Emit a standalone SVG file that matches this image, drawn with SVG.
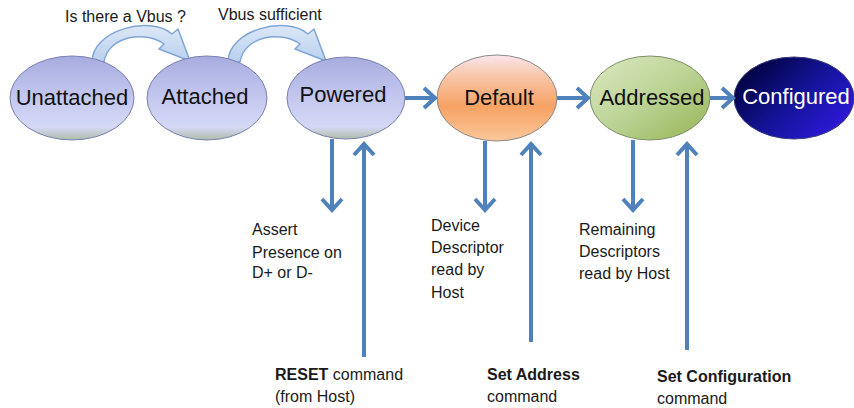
<svg xmlns="http://www.w3.org/2000/svg" width="854" height="408" viewBox="0 0 854 408">
  <style>
    .lbl { font-family: "Liberation Sans", Arial, sans-serif; font-size: 16px; fill: #1a1a1a; }
    .b { font-weight: bold; }
    .node-text { font-family: "Liberation Sans", Arial, sans-serif; font-size: 22px; fill: #111; text-anchor: middle; }
    .conn { stroke: #4f81bd; stroke-width: 4; fill: none; marker-end: url(#head); }
    .bend { fill: url(#bendFill); stroke: #7fa6d6; stroke-width: 1.5; stroke-linejoin: round; }
  </style>
  <defs>
    <marker id="head" markerUnits="userSpaceOnUse" viewBox="-16 -14 20 28" refX="0" refY="0" markerWidth="20" markerHeight="28" orient="auto">
      <path d="M-11,-10 L0,0 L-11,10" fill="none" stroke="#4f81bd" stroke-width="4"/>
    </marker>
    <linearGradient id="blueNode" x1="0" y1="0" x2="0" y2="1">
      <stop offset="0" stop-color="#a7acdf"/>
      <stop offset="0.5" stop-color="#c4c8ef"/>
      <stop offset="0.85" stop-color="#d5d9f6"/>
      <stop offset="1" stop-color="#adbca6"/>
    </linearGradient>
    <linearGradient id="orangeNode" x1="0" y1="0" x2="0" y2="1">
      <stop offset="0" stop-color="#fbe6ee"/>
      <stop offset="0.25" stop-color="#f9c6a8"/>
      <stop offset="0.6" stop-color="#f7a264"/>
      <stop offset="1" stop-color="#fac89a"/>
    </linearGradient>
    <linearGradient id="greenNode" x1="0" y1="0" x2="1" y2="1">
      <stop offset="0" stop-color="#dce9c2"/>
      <stop offset="0.5" stop-color="#bcd395"/>
      <stop offset="1" stop-color="#93b553"/>
    </linearGradient>
    <linearGradient id="navyNode" x1="0" y1="0.2" x2="1" y2="0.9">
      <stop offset="0" stop-color="#000038"/>
      <stop offset="0.5" stop-color="#14149a"/>
      <stop offset="0.85" stop-color="#2a18d0"/>
      <stop offset="1" stop-color="#6a10c8"/>
    </linearGradient>
    <linearGradient id="bendFill" x1="0" y1="0" x2="0" y2="1">
      <stop offset="0" stop-color="#dbe7f6"/>
      <stop offset="1" stop-color="#b9d0ee"/>
    </linearGradient>
    <!-- curved block arrow over two neighbouring states -->
    <path id="bend" d="M92,62 C92,30 150,15 172,34 L178,29 L190,61 L159,49 L164,44 C145,30 108,36 104,62 Z"/>
  </defs>

  <!-- top captions -->
  <text class="lbl" x="65" y="22" font-size="15">Is there a Vbus ?</text>
  <text class="lbl" x="218" y="20" font-size="15">Vbus sufficient</text>

  <!-- curved transitions -->
  <g id="bends">
    <use href="#bend" class="bend"/>
    <use href="#bend" class="bend" transform="translate(136,0)"/>
  </g>

  <g id="unattached">
    <ellipse cx="72" cy="98" rx="62" ry="42" fill="url(#blueNode)" stroke="#7a80b0" stroke-width="1"/>
    <text class="node-text" x="72" y="105">Unattached</text>
  </g>
  <g id="attached">
    <ellipse cx="207" cy="98" rx="60" ry="42" fill="url(#blueNode)" stroke="#7a80b0" stroke-width="1"/>
    <text class="node-text" x="205" y="104">Attached</text>
  </g>
  <g id="powered">
    <ellipse cx="346" cy="98" rx="59" ry="41" fill="url(#blueNode)" stroke="#7a80b0" stroke-width="1"/>
    <text class="node-text" x="343" y="102">Powered</text>
  </g>
  <g id="default">
    <ellipse cx="497" cy="98" rx="60" ry="43" fill="url(#orangeNode)" stroke="#8a8a8a" stroke-width="1"/>
    <text class="node-text" x="499" y="105">Default</text>
  </g>
  <g id="addressed">
    <ellipse cx="650" cy="98" rx="60" ry="42" fill="url(#greenNode)" stroke="#7f8f6a" stroke-width="1"/>
    <text class="node-text" x="652" y="105">Addressed</text>
  </g>
  <g id="configured">
    <ellipse cx="794" cy="98" rx="60" ry="41" fill="url(#navyNode)" stroke="#3a3a7a" stroke-width="1"/>
    <text class="node-text" x="796" y="104" style="fill:#ffffff">Configured</text>
  </g>

  <g id="connectors">
    <line class="conn" x1="405" y1="98" x2="435" y2="98"/>
    <line class="conn" x1="557" y1="98" x2="588" y2="98"/>
    <line class="conn" x1="710" y1="98" x2="733" y2="98"/>

    <line class="conn" x1="332" y1="139" x2="332" y2="210"/>
    <line class="conn" x1="364" y1="357" x2="364" y2="144"/>
    <line class="conn" x1="485" y1="141" x2="485" y2="210"/>
    <line class="conn" x1="531" y1="342" x2="531" y2="144"/>
    <line class="conn" x1="633" y1="140" x2="633" y2="210"/>
    <line class="conn" x1="687" y1="350" x2="687" y2="144"/>
  </g>

  <g id="notes">
    <text class="lbl" x="252" y="235">Assert</text>
    <text class="lbl" x="252" y="258">Presence on</text>
    <text class="lbl" x="252" y="278">D+ or D-</text>

    <text class="lbl" x="431" y="231">Device</text>
    <text class="lbl" x="431" y="253">Descriptor</text>
    <text class="lbl" x="431" y="275">read by</text>
    <text class="lbl" x="431" y="298">Host</text>

    <text class="lbl" x="579" y="235">Remaining</text>
    <text class="lbl" x="579" y="257">Descriptors</text>
    <text class="lbl" x="579" y="279">read by Host</text>

    <text class="lbl" x="275" y="380"><tspan class="b">RESET</tspan> command</text>
    <text class="lbl" x="275" y="402">(from Host)</text>

    <text class="lbl b" x="487" y="380">Set Address</text>
    <text class="lbl" x="487" y="402">command</text>

    <text class="lbl b" x="657" y="382">Set Configuration</text>
    <text class="lbl" x="657" y="404">command</text>
  </g>
</svg>
